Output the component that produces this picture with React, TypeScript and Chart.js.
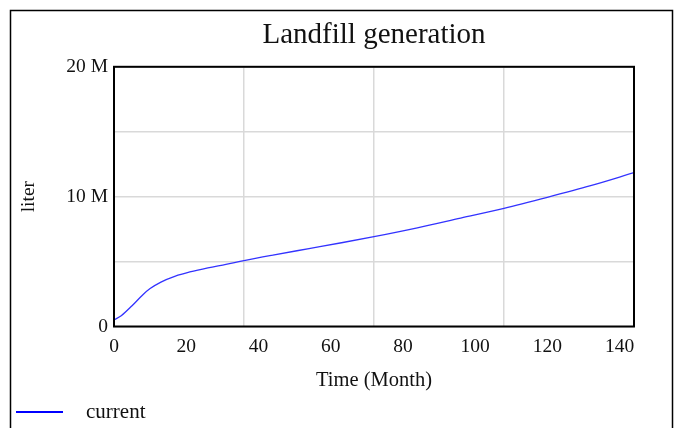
import React, { useEffect, useRef } from "react";
import { Chart, registerables } from "chart.js";

Chart.register(...registerables);

const months = [0, 2, 5, 8, 10, 13, 17, 21, 26, 31, 36, 44, 54, 63, 72, 84, 96, 108, 120, 132, 144];
const currentMillions = [0.5, 0.83, 1.6, 2.45, 2.92, 3.42, 3.88, 4.2, 4.52, 4.79, 5.08, 5.5, 6.0, 6.45, 6.92, 7.6, 8.35, 9.1, 9.95, 10.85, 11.85];
const seriesName = "current";
const chartTitle = "Landfill generation";
const xTitle = "Time (Month)";
const yTitle = "liter";
const xMax = 144;
const yMax = 20e6;

const FONT = "'Liberation Serif', 'Times New Roman', serif";

const decorPlugin = {
  id: "decor",
  afterDraw(chart: any) {
    const { ctx, chartArea } = chart;
    ctx.save();
    ctx.strokeStyle = "#000";
    ctx.lineWidth = 2;
    ctx.strokeRect(chartArea.left, chartArea.top, chartArea.right - chartArea.left, chartArea.bottom - chartArea.top);
    ctx.lineWidth = 1.5;
    ctx.strokeRect(10.5, 10.5, 662, 440);
    // legend
    ctx.strokeStyle = "#0000ff";
    ctx.lineWidth = 2;
    ctx.beginPath();
    ctx.moveTo(16, 412);
    ctx.lineTo(63, 412);
    ctx.stroke();
    ctx.fillStyle = "#111";
    ctx.textAlign = "left";
    ctx.textBaseline = "middle";
    ctx.font = `21px ${FONT}`;
    ctx.fillText(seriesName, 86, 412);
    ctx.restore();
  },
};

export default function App() {
  const ref = useRef<HTMLCanvasElement>(null);
  useEffect(() => {
    document.body.style.margin = "0";
    const data = months.map((m, i) => ({ x: m, y: currentMillions[i] * 1e6 }));
    const chart = new Chart(ref.current!, {
      type: "line",
      data: {
        datasets: [
          {
            label: seriesName,
            data,
            borderColor: "#3333ff",
            borderWidth: 1.3,
            pointRadius: 0,
            cubicInterpolationMode: "monotone",
            fill: false,
            xAxisID: "x",
            yAxisID: "y",
          },
        ],
      },
      options: {
        animation: false,
        responsive: false,
        layout: { padding: { left: 0, right: 42, top: 0, bottom: 0 } },
        plugins: {
          legend: { display: false },
          tooltip: { enabled: false },
          title: {
            display: true,
            text: chartTitle,
            fullSize: false,
            color: "#111",
            font: { family: FONT, size: 29, weight: "normal" },
            padding: { top: 18, bottom: 14 },
          },
        },
        scales: {
          x: {
            type: "linear",
            position: "bottom",
            min: 0,
            max: xMax,
            grid: { display: false, drawTicks: false },
            border: { display: false },
            ticks: {
              stepSize: 20,
              includeBounds: false,
              maxRotation: 0,
              padding: 9,
              color: "#111",
              font: { family: FONT, size: 19.5 },
            },
            title: {
              display: true,
              text: xTitle,
              color: "#111",
              font: { family: FONT, size: 20.5 },
              padding: { top: 0, bottom: 35.5 },
            },
            afterFit: (s: any) => {
              s.height = 101.5;
            },
          },
          xg: {
            type: "linear",
            position: "top",
            min: 0,
            max: xMax,
            grid: { color: "#d9d9d9", lineWidth: 1.5, drawTicks: false },
            border: { display: false },
            ticks: { display: false, stepSize: 36 },
            afterFit: (s: any) => {
              s.height = 0;
            },
          },
          y: {
            type: "linear",
            min: 0,
            max: yMax,
            grid: { color: "#d9d9d9", lineWidth: 1.5, drawTicks: false },
            border: { display: false },
            ticks: {
              stepSize: 5e6,
              padding: 6,
              color: "#111",
              font: { family: FONT, size: 19.5 },
              callback: (v: any) => (v === 0 ? "0" : v % 10e6 === 0 ? `${v / 1e6} M` : ""),
            },
            title: {
              display: true,
              text: yTitle,
              color: "#111",
              font: { family: FONT, size: 19.5 },
              padding: { top: 17, bottom: 0 },
            },
            afterFit: (s: any) => {
              s.width = 114;
            },
          },
        },
      },
      plugins: [decorPlugin],
    });
    return () => chart.destroy();
  }, []);
  return (
    <div style={{ width: 676, height: 428 }}>
      <canvas ref={ref} width={676} height={428} style={{ display: "block" }} />
    </div>
  );
}
